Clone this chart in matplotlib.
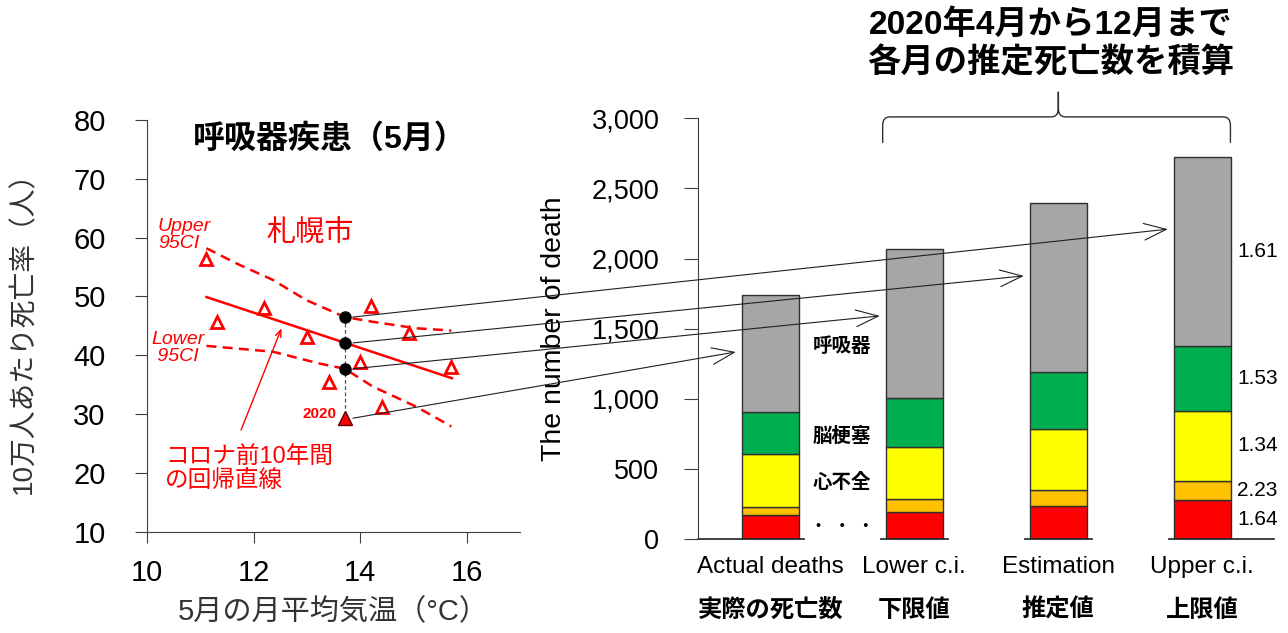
import matplotlib
matplotlib.use("Agg")
import matplotlib.pyplot as plt
import numpy as np
from matplotlib.patches import ConnectionPatch, PathPatch
from matplotlib.path import Path

plt.rcParams['font.family'] = ['Liberation Sans', 'Noto Sans CJK JP', 'DejaVu Sans']

# ---- left panel: rate vs May temperature (Sapporo) ----
temps = [11.11, 11.31, 12.20, 13.00, 13.41, 14.00, 14.20, 14.40, 14.91, 15.70]
rates = [56.4, 45.7, 48.0, 43.1, 35.5, 38.9, 48.3, 31.2, 43.8, 38.0]
temp_2020 = 13.71
rate_2020 = 29.3

fit_x = [11.11, 15.72]
fit_y = [49.9, 36.1]

upper_x = [11.11, 11.7, 12.36, 12.98, 13.71, 14.23, 15.04, 15.71]
upper_y = [58.2, 55.5, 52.8, 49.4, 46.5, 45.7, 44.6, 44.2]
lower_x = [11.11, 12.36, 13.23, 13.71, 14.23, 15.04, 15.71]
lower_y = [41.6, 40.6, 38.6, 37.7, 34.7, 31.3, 27.9]

# predicted 2020 values: upper ci, fit, lower ci
pred_2020 = [46.5, 42.1, 37.7]

# ---- right panel: stacked deaths Apr-Dec 2020 ----
bar_en = ['Actual deaths', 'Lower c.i.', 'Estimation', 'Upper c.i.']
bar_ja = ['実際の死亡数', '下限値', '推定値', '上限値']
red = [171, 197, 237, 280]
orange = [61, 90, 117, 138]
yellow = [374, 369, 432, 499]
green = [299, 349, 404, 461]
gray = [836, 1063, 1209, 1349]
ratios = ['1.64', '2.23', '1.34', '1.53', '1.61']
seg_colors = ['#FF0000', '#FFC000', '#FFFF00', '#00B050', '#A6A6A6']

arrow_end_y = [1335, 1592, 1877, 2210]  # actual, lower, estimation, upper

RED = '#FF0000'
EDGE = '#404040'

fig = plt.figure(figsize=(12.88, 6.33), dpi=100)

# left axes
ax1 = fig.add_axes([0.1144, 0.1600, 0.2894, 0.6504])
ax1.set_xlim(10, 17)
ax1.set_ylim(10, 80)
ax1.set_xticks([10, 12, 14, 16])
ax1.set_yticks(range(10, 81, 10))
for s in ['top', 'right']:
    ax1.spines[s].set_visible(False)
for s in ['left', 'bottom']:
    ax1.spines[s].set_color(EDGE)
ax1.tick_params(axis='y', length=9, pad=21, labelsize=21, color=EDGE)
ax1.tick_params(axis='x', length=8, pad=12, labelsize=21, color=EDGE)

ax1.plot(upper_x, upper_y, color=RED, ls=(0, (4, 2.5)), lw=1.8)
ax1.plot(lower_x, lower_y, color=RED, ls=(0, (4, 2.5)), lw=1.8)
ax1.plot(fit_x, fit_y, color=RED, lw=1.8)
ax1.plot([temp_2020, temp_2020], [pred_2020[0], rate_2020], color='#555555',
         ls=(0, (3, 2)), lw=0.9, zorder=2)
ax1.plot(temps, rates, ls='none', marker='^', ms=9, mfc='white', mec=RED, mew=2)
ax1.plot([temp_2020] * 3, pred_2020, ls='none', marker='o', ms=8, color='black', zorder=4)
ax1.plot([temp_2020], [rate_2020], ls='none', marker='^', ms=10, mfc=RED, mec='#600000',
         mew=1, zorder=4)

ax1.text(10.2, 60.5, 'Upper\n95CI', color=RED, style='italic', fontsize=14,
         ha='left', va='center', linespacing=1.0)
ax1.text(10.08, 41.3, 'Lower\n 95CI', color=RED, style='italic', fontsize=14,
         ha='left', va='center', linespacing=1.0)
ax1.text(13.05, 60.8, '札幌市', color=RED, fontsize=21, ha='center', va='center')
ax1.text(13.55, 30.1, '2020', color=RED, fontsize=11, fontweight='bold',
         ha='right', va='center')
ax1.text(10.33, 20.6, 'コロナ前10年間\nの回帰直線', color=RED, fontsize=17,
         ha='left', va='center', linespacing=1.1)
ax1.annotate('', xy=(12.52, 44.6), xytext=(11.76, 27.3),
             arrowprops=dict(arrowstyle='->,head_length=0.5,head_width=0.2',
                             color=RED, lw=1, shrinkA=0, shrinkB=0))

ax1.set_ylabel('10万人あたり死亡率（人）', fontsize=20, color='#333333')
ax1.yaxis.set_label_coords(-0.295, 0.5)
ax1.set_xlabel('5月の月平均気温（°C）', fontsize=21, color='#333333', labelpad=8)

fig.text(0.256, 0.780, '呼吸器疾患（5月）', fontsize=23, fontweight='bold',
         ha='center', va='center')

# right axes
ax2 = fig.add_axes([0.5422, 0.1480, 0.4472, 0.6651])
xpos = np.arange(len(bar_en))
width = 0.4
bottom = np.zeros(len(bar_en))
segments = [red, orange, yellow, green, gray]
for vals, col in zip(segments, seg_colors):
    ax2.bar(xpos, vals, width, bottom=bottom, color=col, edgecolor='#303030', lw=1)
    bottom += np.array(vals)

ax2.set_xlim(-0.5, 3.5)
ax2.set_ylim(0, 3000)
ax2.set_yticks(range(0, 3001, 500))
ax2.set_yticklabels([f'{v:,}' for v in range(0, 3001, 500)])
ax2.tick_params(axis='y', length=10, pad=18, labelsize=19.5, color=EDGE)
ax2.tick_params(axis='x', length=0, pad=12, labelsize=17.5)
ax2.set_xticks(xpos)
ax2.set_xticklabels(bar_en)
for s in ['top', 'right', 'bottom']:
    ax2.spines[s].set_visible(False)
ax2.spines['left'].set_color(EDGE)
# baseline segments under bars
for i in xpos:
    x0 = -0.5 if i == 0 else i - 0.235
    x1 = 3.5 if i == xpos[-1] else i + 0.235
    ax2.plot([x0, x1], [0, 0], color='#202020', lw=1.2, clip_on=False)
for i, lab in zip(xpos, bar_ja):
    ax2.text(i, -0.168, lab, transform=ax2.get_xaxis_transform(), fontsize=17.5,
             fontweight='bold', ha='center', va='center')
ax2.set_ylabel('The number of death', fontsize=20.5)
ax2.yaxis.set_label_coords(-0.228, 0.5)

# cause labels between first two bars
ax2.text(0.5, 1373, '呼吸器', fontsize=14, fontweight='bold', ha='center', va='center')
ax2.text(0.5, 736, '脳梗塞', fontsize=14, fontweight='bold', ha='center', va='center')
ax2.text(0.5, 403, '心不全', fontsize=14, fontweight='bold', ha='center', va='center')
ax2.text(0.5, 90, '・  ・  ・', fontsize=11, fontweight='bold', ha='center', va='center')

# ratio labels beside upper bar
top_vals = [s[3] for s in segments]
edges = np.concatenate([[0], np.cumsum(top_vals)])
for k, r in enumerate(ratios):
    ax2.text(3 + width / 2 + 0.04, (edges[k] + edges[k + 1]) / 2, r, fontsize=15,
             ha='left', va='center')

# brace above bars 1..3
bl, br = 1 - width / 2 - 0.02, 3 + width / 2 - 0.005
bm = 2.0
yb, yh, yc = 2825, 3010, 3189
dx, dy = 0.05, 60
verts = [(bl, yb), (bl, yh - dy), (bl, yh), (bl + dx, yh), (bm - dx, yh), (bm, yh),
         (bm, yh + dy), (bm, yc), (bm, yh + dy), (bm, yh), (bm + dx, yh),
         (br - dx, yh), (br, yh), (br, yh - dy), (br, yb)]
codes = [Path.MOVETO, Path.LINETO, Path.CURVE3, Path.CURVE3, Path.LINETO, Path.CURVE3,
         Path.CURVE3, Path.LINETO, Path.LINETO, Path.CURVE3, Path.CURVE3,
         Path.LINETO, Path.CURVE3, Path.CURVE3, Path.LINETO]
ax2.add_patch(PathPatch(Path(verts, codes), fill=False, ec='#303030', lw=1, clip_on=False))

fig.text(0.816, 0.9605, '2020年4月から12月まで', fontsize=24, fontweight='bold',
         ha='center', va='center')
fig.text(0.816, 0.900, '各月の推定死亡数を積算', fontsize=24, fontweight='bold',
         ha='center', va='center')

# arrows from the 2020 points to the bars
starts = [rate_2020, pred_2020[2], pred_2020[1], pred_2020[0]]
for i, (sy, ey) in enumerate(zip(starts, arrow_end_y)):
    con = ConnectionPatch(xyA=(temp_2020 + 0.15, sy), coordsA=ax1.transData,
                          xyB=(xpos[i] - 0.24, ey), coordsB=ax2.transData,
                          arrowstyle='->,head_length=0.8,head_width=0.3',
                          mutation_scale=20, color='#202020', lw=0.8,
                          shrinkA=0, shrinkB=0)
    fig.add_artist(con)

fig.savefig('out.png', dpi=100)
